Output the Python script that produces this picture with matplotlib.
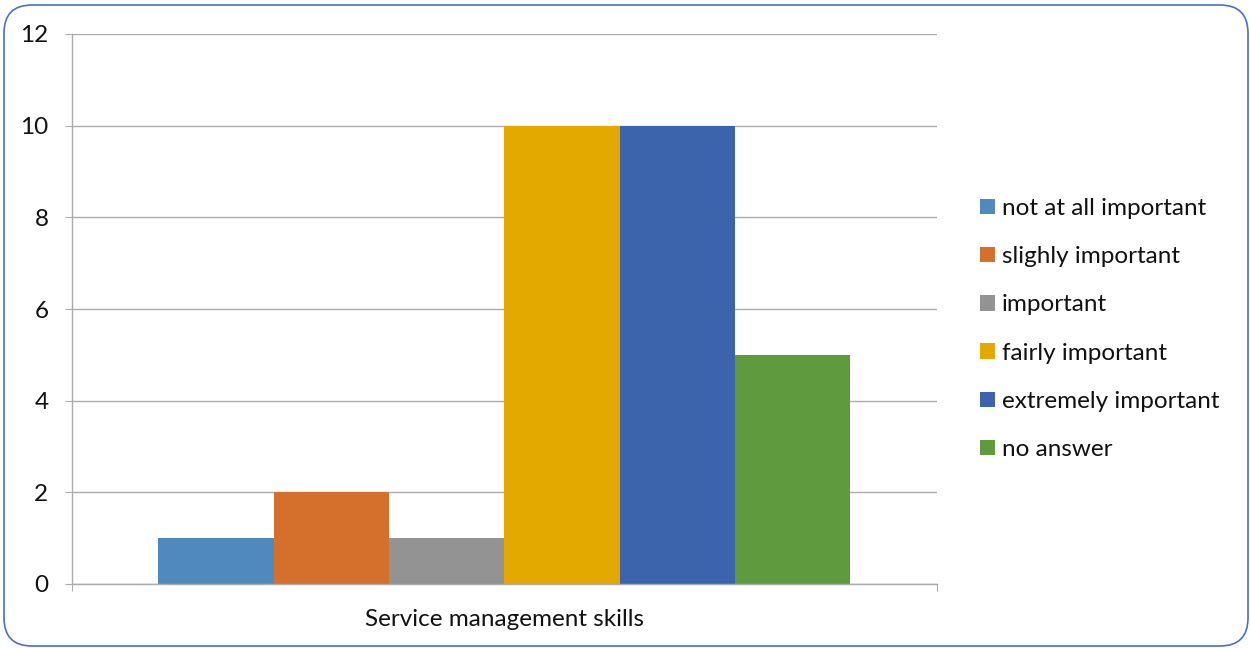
import matplotlib.pyplot as plt
import numpy as np
from matplotlib.patches import FancyBboxPatch

category = "Service management skills"
labels = ["not at all important", "slighly important", "important",
          "fairly important", "extremely important", "no answer"]
counts = [1, 2, 1, 10, 10, 5]
colors = ["#4F89BD", "#D56F2C", "#939393", "#E3A900", "#3C64AD", "#609A3E"]

plt.rcParams['font.family'] = ['Lato', 'DejaVu Sans']
FS = 17.5

W, H = 1250, 648
fig = plt.figure(figsize=(W / 100, H / 100), dpi=100)
ax = fig.add_axes([72 / W, (H - 584) / H, 865 / W, 550 / H])

# grouped bars for the single category
n = len(counts)
group = 0.8
bw = group / n
offsets = -group / 2 + bw * (np.arange(n) + 0.5)
for off, val, col, lab in zip(offsets, counts, colors, labels):
    ax.bar(off, val, width=bw, color=col, label=lab, zorder=2)

ax.set_xlim(-0.5, 0.5)
ax.set_ylim(0, 12)
ax.set_yticks(range(0, 13, 2))
ax.yaxis.grid(True, color="#ABABAB", linewidth=1.0, zorder=0)
ax.set_axisbelow(True)

for s in ["top", "right"]:
    ax.spines[s].set_visible(False)
for s in ["left", "bottom"]:
    ax.spines[s].set_color("#ABABAB")
    ax.spines[s].set_linewidth(1.0)

ax.tick_params(axis="y", length=5, color="#ABABAB", pad=12,
               labelsize=FS, labelcolor="#111111")
ax.set_xticks([-0.5, 0.5])
ax.set_xticklabels(["", ""])
ax.tick_params(axis="x", which="major", length=5, color="#ABABAB")
ax.set_xticks([0], minor=True)
ax.set_xticklabels([category], minor=True)
ax.tick_params(axis="x", which="minor", length=0, pad=18,
               labelsize=FS, labelcolor="#111111")

leg = fig.legend(loc="center left", bbox_to_anchor=(968 / W, (H - 329) / H),
                 frameon=False, fontsize=FS, borderpad=0, handlelength=0.6,
                 handleheight=0.6, handletextpad=0.3, labelspacing=1.12)
for t in leg.get_texts():
    t.set_color("#111111")

# rounded chart border
border = FancyBboxPatch((4 + 28, 2 + 28), W - 6 - 56, H - 7 - 56,
                        boxstyle="round,pad=28", transform=None,
                        facecolor="none", edgecolor="#4472C4", linewidth=1.2)
fig.patches.append(border)

fig.savefig("out.png", dpi=100)
